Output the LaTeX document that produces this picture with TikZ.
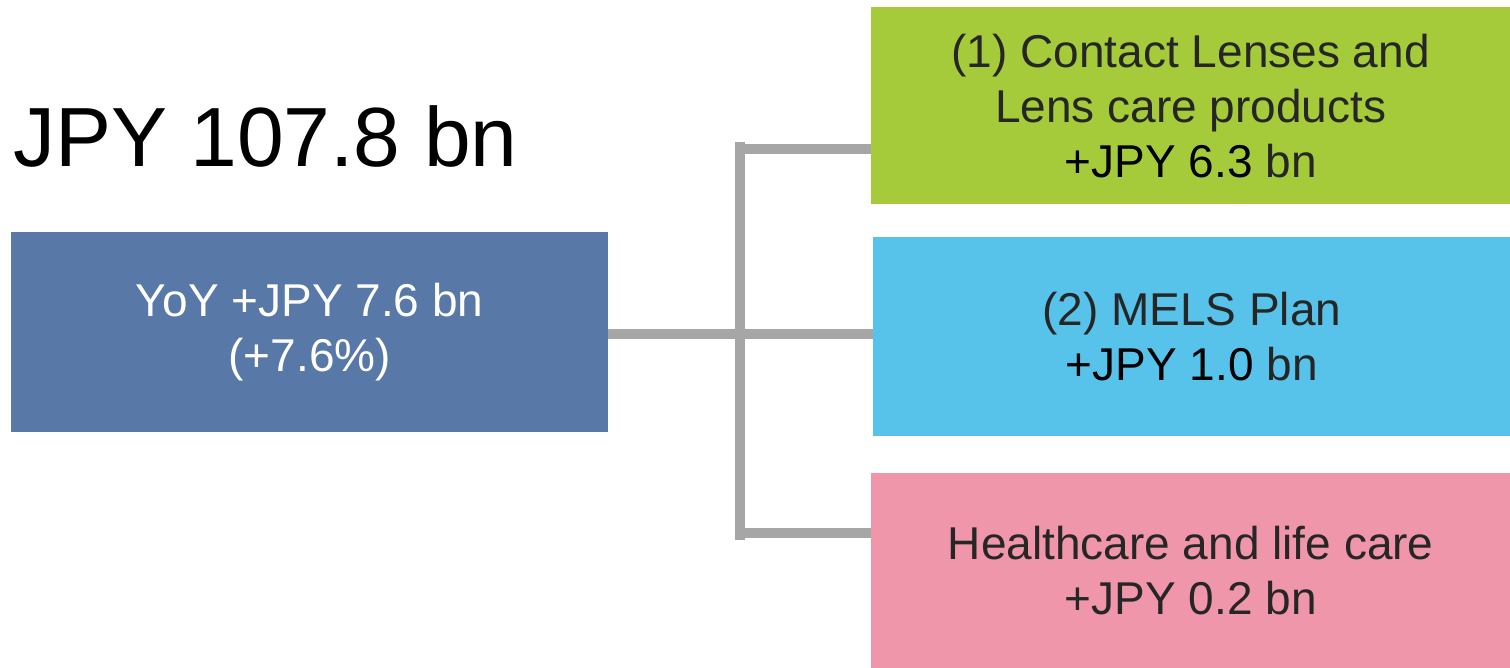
\documentclass[tikz,border=0pt]{standalone}
\usepackage{fontspec}
\setmainfont{Liberation Sans}
\definecolor{bluebox}{HTML}{5878A8}
\definecolor{greenbox}{HTML}{A5CB3A}
\definecolor{cyanbox}{HTML}{58C3EA}
\definecolor{pinkbox}{HTML}{F096AA}
\definecolor{linegray}{HTML}{A6A6A6}
\definecolor{txtdark}{HTML}{262626}
\tikzset{
  catbox/.style={anchor=north west, inner sep=0pt, align=center, text=txtdark,
    font=\fontsize{46}{55}\selectfont},
  conn/.style={draw=linegray, line width=10pt}
}
\begin{document}
\begin{tikzpicture}[x=1pt,y=-1pt]
\useasboundingbox (0,0) rectangle (1510,668);
\node[anchor=base west, inner sep=0pt, font=\fontsize{84}{96}\selectfont] (total) at (13,167) {JPY 107.8 bn};
\node[catbox, fill=bluebox, text=white, minimum width=597pt, minimum height=200pt] (blue) at (11,232)
  {YoY +JPY 7.6 bn\\(+7.6\%)};
\node[catbox, fill=greenbox, minimum width=639pt, minimum height=197pt] (green) at (871,7)
  {(1) Contact Lenses and\\Lens care products\\\textcolor{black}{+JPY 6.3} bn};
\node[catbox, fill=cyanbox, minimum width=637pt, minimum height=199pt] (cyan) at (873,237)
  {(2) MELS Plan\\\textcolor{black}{+JPY 1.0} bn};
\node[catbox, fill=pinkbox, minimum width=639pt, minimum height=195pt] (pink) at (871,473)
  {Healthcare and life care\\+JPY 0.2 bn};
\coordinate (jt) at (740,142);
\coordinate (jb) at (740,540);
\coordinate (gt) at (740,149);
\coordinate (pb) at (740,533);
\draw[conn] (jt) -- (jb);
\draw[conn] (gt) -- (gt -| green.west);
\draw[conn] (pb) -- (pb -| pink.west);
\draw[conn] ([yshift=-2pt]blue.east) -- ([yshift=-2pt]blue.east -| cyan.west);
\end{tikzpicture}
\end{document}
